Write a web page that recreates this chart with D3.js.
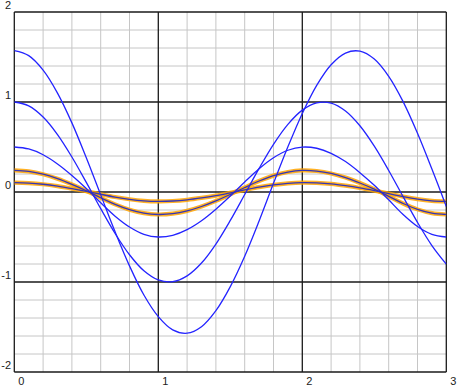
<!DOCTYPE html>
<html>
<head>
<meta charset="utf-8">
<script src="https://cdn.jsdelivr.net/npm/d3@7"></script>
<style>
  html, body { margin: 0; padding: 0; background: #fff; }
  svg { display: block; }
  text { font-family: "Liberation Sans", Arial, Helvetica, sans-serif; font-size: 11px; fill: #222; }
</style>
</head>
<body>
<svg id="chart" width="457" height="386"></svg>
<script>
// ---- data ----
const xValues = [0,0.1,0.2,0.3,0.4,0.5,0.6,0.7,0.8,0.9,1.0,1.1,1.2,1.3,1.4,1.5,1.6,1.7,1.8,1.9,2.0,2.1,2.2,2.3,2.4,2.5,2.6,2.7,2.8,2.9,3.0];
const seriesBig = [1.570,1.515,1.354,1.099,0.768,0.380,-0.032,-0.442,-0.821,-1.145,-1.385,-1.532,-1.569,-1.497,-1.319,-1.052,-0.714,-0.322,0.096,0.502,0.873,1.185,1.414,1.544,1.565,1.477,1.285,1.004,0.652,0.255,-0.160];
const seriesOne = [1.000,0.957,0.833,0.638,0.389,0.107,-0.185,-0.461,-0.697,-0.875,-0.977,-0.997,-0.932,-0.789,-0.578,-0.316,-0.028,0.262,0.530,0.752,0.910,0.991,0.988,0.900,0.736,0.509,0.239,-0.052,-0.338,-0.595,-0.802];
const seriesHalf = [0.500,0.478,0.414,0.312,0.184,0.039,-0.120,-0.269,-0.389,-0.470,-0.500,-0.481,-0.418,-0.319,-0.191,-0.045,0.111,0.259,0.381,0.464,0.499,0.486,0.430,0.338,0.215,0.074,-0.087,-0.250,-0.383,-0.470,-0.500];
const seriesQuarter = [0.240,0.229,0.198,0.148,0.085,0.014,-0.064,-0.137,-0.196,-0.235,-0.250,-0.241,-0.210,-0.161,-0.099,-0.027,0.050,0.122,0.182,0.222,0.240,0.233,0.206,0.160,0.100,0.031,-0.048,-0.128,-0.193,-0.235,-0.250];
const seriesTenth = [0.104,0.099,0.086,0.065,0.038,0.008,-0.025,-0.056,-0.081,-0.098,-0.104,-0.100,-0.087,-0.066,-0.040,-0.009,0.023,0.054,0.079,0.096,0.104,0.101,0.090,0.070,0.045,0.015,-0.018,-0.052,-0.080,-0.098,-0.104];
const highlighted = [false, false, false, true, true];
const xTickLabels = [0, 1, 2, 3];
const yTickLabels = [2, 1, 0, -1, -2];
const xMinorTicks = [0.2,0.4,0.6,0.8,1.2,1.4,1.6,1.8,2.2,2.4,2.6,2.8];
const yMinorTicks = [-1.8,-1.6,-1.4,-1.2,-0.8,-0.6,-0.4,-0.2,0.2,0.4,0.6,0.8,1.2,1.4,1.6,1.8];

// ---- layout ----
const svg = d3.select("#chart");
const padL = 14.3, padR = 446.3, padT = 12, padB = 372;
const x = d3.scaleLinear().domain([0, 3]).range([padL, padR]);
const y = d3.scaleLinear().domain([-2, 2]).range([padB, padT]);

svg.append("defs").append("clipPath").attr("id", "clip")
  .append("rect").attr("x", padL).attr("y", padT).attr("width", padR - padL).attr("height", padB - padT);

// minor grid
const grid = svg.append("g");
grid.selectAll("line.vx").data(xMinorTicks).join("line")
  .attr("class", "vx")
  .attr("x1", d => x(d)).attr("x2", d => x(d)).attr("y1", padT).attr("y2", padB)
  .attr("stroke", "#c6c6c6").attr("stroke-width", 1);
grid.selectAll("line.hy").data(yMinorTicks).join("line")
  .attr("class", "hy")
  .attr("y1", d => y(d)).attr("y2", d => y(d)).attr("x1", padL).attr("x2", padR)
  .attr("stroke", "#c6c6c6").attr("stroke-width", 1);

// major grid
const major = svg.append("g");
major.selectAll("line.mx").data(xTickLabels).join("line")
  .attr("class", "mx")
  .attr("x1", d => x(d)).attr("x2", d => x(d)).attr("y1", padT).attr("y2", padB)
  .attr("stroke", "#1a1a1a").attr("stroke-width", 1.3);
major.selectAll("line.my").data(yTickLabels).join("line")
  .attr("class", "my")
  .attr("y1", d => y(d)).attr("y2", d => y(d)).attr("x1", padL).attr("x2", padR)
  .attr("stroke", "#1a1a1a").attr("stroke-width", 1.3);

// curves
const series = [seriesBig, seriesOne, seriesHalf, seriesQuarter, seriesTenth];
const line = d3.line()
  .x((d, i) => x(xValues[i]))
  .y(d => y(d))
  .curve(d3.curveCatmullRom.alpha(0.5));

const curves = svg.append("g").attr("clip-path", "url(#clip)");
series.forEach((s, k) => {
  if (highlighted[k]) {
    curves.append("path").attr("d", line(s)).attr("fill", "none")
      .attr("stroke", "#ffa500").attr("stroke-opacity", 0.85).attr("stroke-width", 4.2)
      .attr("stroke-linejoin", "round");
  }
});
series.forEach((s, k) => {
  curves.append("path").attr("d", line(s)).attr("fill", "none")
    .attr("stroke", highlighted[k] ? "#3434b8" : "#2424ff").attr("stroke-width", 1.3)
    .attr("stroke-linejoin", "round");
});

// labels
svg.selectAll("text.xl").data(xTickLabels).join("text")
  .attr("class", "xl")
  .attr("x", d => x(d) + 4).attr("y", padB + 13)
  .attr("text-anchor", "start")
  .text(d => d);
svg.selectAll("text.yl").data(yTickLabels).join("text")
  .attr("class", "yl")
  .attr("x", 11).attr("y", d => y(d) - 3)
  .attr("text-anchor", "end")
  .text(d => d);
</script>
</body>
</html>
